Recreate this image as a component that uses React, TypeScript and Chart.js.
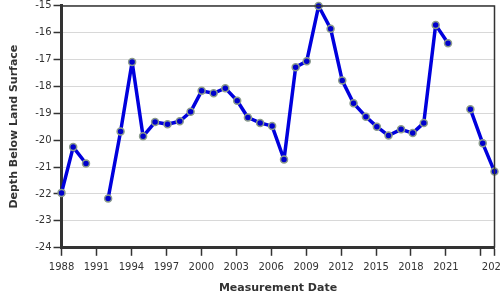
import React, { useEffect, useRef } from "react";
import { Chart, registerables } from "chart.js";

Chart.register(...registerables);

const dates: number[] = [
  1988.0, 1989.0, 1990.1, 1991.0, 1992.0, 1993.07, 1994.06, 1995.0, 1996.03, 1997.1,
  1998.15, 1999.08, 2000.03, 2001.06, 2002.06, 2003.08, 2004.0, 2005.05, 2006.08, 2007.1,
  2008.1, 2009.05, 2010.07, 2011.1, 2012.1, 2013.07, 2014.13, 2015.07, 2016.07, 2017.15,
  2018.15, 2019.1, 2020.12, 2021.18, 2022.1, 2023.1, 2024.16, 2025.17,
];
const depths: (number | null)[] = [
  -21.96, -20.26, -20.87, null, -22.17, -19.68, -17.1, -19.86, -19.33, -19.41,
  -19.3, -18.95, -18.17, -18.26, -18.07, -18.54, -19.16, -19.36, -19.48, -20.72,
  -17.29, -17.07, -15.02, -15.86, -17.79, -18.63, -19.13, -19.5, -19.83, -19.6,
  -19.74, -19.36, -15.72, -16.4, null, -18.85, -20.12, -21.17,
];
const xTickYears: number[] = [1988, 1991, 1994, 1997, 2000, 2003, 2006, 2009, 2012, 2015, 2018, 2021, 2024];
const lastLabel = "2025";
const yMin = -24;
const yMax = -15;

const FONT = "'DejaVu Sans', Verdana, sans-serif";

export default function App() {
  const ref = useRef<HTMLCanvasElement>(null);
  useEffect(() => {
    const canvas = ref.current!;
    const xMin = dates[0];
    const xMax = dates[dates.length - 1];
    const frame = {
      id: "frame",
      afterDatasetsDraw(chart: any) {
        const { ctx, chartArea: a } = chart;
        ctx.save();
        ctx.strokeStyle = "#333";
        ctx.lineWidth = 1.5;
        ctx.beginPath();
        ctx.moveTo(a.left, a.top + 0.5);
        ctx.lineTo(a.right, a.top + 0.5);
        ctx.lineTo(a.right, a.bottom);
        ctx.stroke();
        ctx.restore();
      },
    };
    const chart = new Chart(canvas, {
      type: "line",
      data: {
        datasets: [
          {
            data: dates.map((d, i) => ({ x: d, y: depths[i] })) as any,
            borderColor: "#0000dd",
            borderWidth: 3.5,
            borderJoinStyle: "round",
            borderCapStyle: "round",
            backgroundColor: "#0000cc",
            pointBackgroundColor: "#0000cc",
            pointBorderColor: "#8c9c8c",
            pointBorderWidth: 1.5,
            pointRadius: 3.5,
            spanGaps: false,
            tension: 0,
            clip: 6 as any,
          },
        ],
      },
      plugins: [frame],
      options: {
        animation: false,
        responsive: false,
        devicePixelRatio: 1,
        layout: { padding: { left: 8, top: 0, right: 0, bottom: 5 } },
        plugins: { legend: { display: false }, tooltip: { enabled: false } },
        scales: {
          x: {
            type: "linear",
            min: xMin,
            max: xMax,
            afterBuildTicks: (scale: any) => {
              scale.ticks = [...xTickYears.map((v) => ({ value: v })), { value: xMax }];
            },
            afterFit: (scale: any) => {
              scale.paddingRight = 0;
              scale.paddingLeft = 0;
            },
            ticks: {
              autoSkip: false,
              maxRotation: 0,
              padding: 6,
              color: "#333",
              font: { family: FONT, size: 10 },
              callback: (v: any) => {
                const n = Number(v);
                if (n === xMax) return lastLabel;
                if (n === 2024) return "";
                return String(n);
              },
            },
            grid: {
              drawOnChartArea: false,
              drawTicks: true,
              tickLength: 8,
              tickColor: "#333",
              tickWidth: 1.5,
            },
            border: { color: "#333", width: 3 },
            title: {
              display: true,
              text: "Measurement Date",
              color: "#333",
              font: { family: FONT, size: 11, weight: "bold" },
              padding: { top: 2, bottom: 0 },
            },
          },
          y: {
            min: yMin,
            max: yMax,
            afterFit: (scale: any) => {
              scale.paddingTop = 4;
            },
            ticks: {
              stepSize: 1,
              padding: 2,
              color: "#333",
              font: { family: FONT, size: 10 },
            },
            grid: {
              color: "#d8d8d8",
              lineWidth: 1,
              drawTicks: true,
              tickLength: 8,
              tickColor: "#333",
              tickWidth: 1.5,
            },
            border: { color: "#333", width: 3 },
            title: {
              display: true,
              text: "Depth Below Land Surface",
              color: "#333",
              font: { family: FONT, size: 11, weight: "bold" },
              padding: { top: 0, bottom: 12 },
            },
          },
        },
      },
    });
    return () => chart.destroy();
  }, []);
  return (
    <div style={{ position: "absolute", left: 0, top: 0, width: 500, height: 300, overflow: "hidden", background: "#fff" }}>
      <canvas ref={ref} width={500} height={300} style={{ display: "block" }} />
    </div>
  );
}
